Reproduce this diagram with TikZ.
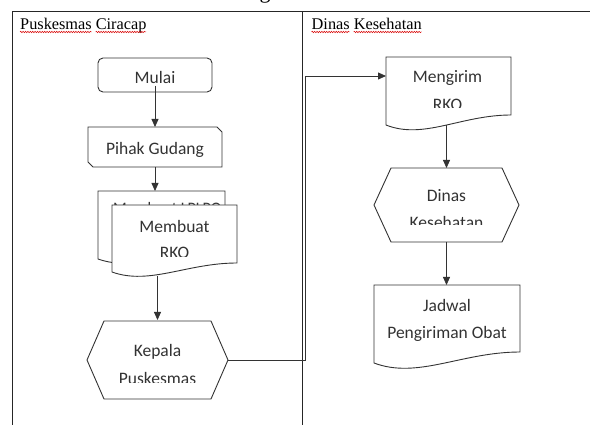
\documentclass[tikz,border=0pt]{standalone}
\usepackage{fontspec}
\setmainfont{Liberation Serif}
\newfontfamily\calibri{Carlito}
\usetikzlibrary{arrows.meta,calc,decorations.pathmorphing}
\newcommand{\docshape}[2]{\draw[shapeline] (#1.north west) -- (#1.north east) -- ($(#1.south east)+(0,-#2)$) .. controls ($(#1.south west)!0.6!(#1.south east)+(0,-#2)$) and ($(#1.south west)!0.3!(#1.south east)+(0,1.5*#2)$) .. (#1.south west) -- cycle;}
\newcommand{\hexshape}[2]{\draw[shapeline] (#1.west) -- ($(#1.north west)+(#2,0)$) -- ($(#1.north east)+(-#2,0)$) -- (#1.east) -- ($(#1.south east)+(-#2,0)$) -- ($(#1.south west)+(#2,0)$) -- cycle;}
\begin{document}
\begin{tikzpicture}[x=1pt,y=-1pt,
  shapeline/.style={draw=black!80, line width=0.9pt, fill=white},
  geo/.style={inner sep=0pt, outer sep=0pt},
  lbl/.style={font=\calibri\fontsize{17.5}{21}\selectfont, text=black!80, anchor=base, inner sep=0pt},
  ttl/.style={font=\fontsize{16.3}{19}\selectfont, anchor=base west, inner sep=0pt},
  frame/.style={draw=black!85, line width=1pt},
  conn/.style={draw=black!80, line width=0.8pt},
  arr/.style={conn, -{Triangle[length=8pt,width=7pt]}},
  wavy/.style={draw=red!85!black, line width=0.5pt, decorate, decoration={snake, amplitude=0.7pt, segment length=2.4pt}}]

\useasboundingbox (0,0) rectangle (590,425);
\fill[white] (0,0) rectangle (590,425);

% fragment of the caption above (cut off by the page edge, as in the reference)
\node[font=\fontsize{22}{26}\selectfont, anchor=base, inner sep=0pt] (cap) at (265,-1) {g};

% swimlane frame
\coordinate (tl) at (12,12);
\coordinate (tr) at (590,12);
\coordinate (bl) at (12,425);
\coordinate (dt) at (302.5,12);
\coordinate (db) at (302.5,425);
\draw[frame] (tr) -- (tl) -- (bl);
\draw[frame] (dt) -- (db);

% lane titles
\node[ttl] (lane1) at (20,29.5) {Puskesmas Ciracap};
\node[ttl] (lane2) at (311.5,29.5) {Dinas Kesehatan};
\draw[wavy] (20,32) -- (91.5,32);
\draw[wavy] (95.6,32) -- (146,32);
\draw[wavy] (311.5,32) -- (349.5,32);
\draw[wavy] (353.6,32) -- (421.5,32);

% ---------- lane 1 ----------
\node[geo, minimum width=114, minimum height=34] (mulai) at (155,75) {};
\draw[shapeline, rounded corners=5pt] (mulai.north west) rectangle (mulai.south east);
\node[lbl] (tmulai) at (155,84) {Mulai};

\node[geo, minimum width=134, minimum height=40] (pg) at (155,147) {};
\draw[shapeline] (pg.north west) -- ($(pg.north east)+(-5,0)$) -- ($(pg.north east)+(0,5)$) -- (pg.south east) -- ($(pg.south west)+(5,0)$) -- ($(pg.south west)+(0,-5)$) -- cycle;
\begin{scope}
  \clip (88,127) rectangle (222,157);
  \node[lbl] (tpg) at (155,154.5) {Pihak Gudang};
\end{scope}

% back document
\node[geo, minimum width=127, minimum height=68] (lp) at (161.5,225) {};
\docshape{lp}{9}
\begin{scope}
  \clip (98,191) rectangle (225,259);
  \node[lbl, font=\calibri\fontsize{16}{19}\selectfont, anchor=base west] (tlp) at (113,213.5) {Membuat LPLPO};
\end{scope}

% front document
\node[geo, minimum width=125, minimum height=67] (mb) at (174.5,238.5) {};
\docshape{mb}{9}
\begin{scope}
  \clip (112,205) rectangle (237,256.5);
  \node[lbl] (tmb1) at (174.5,232.3) {Membuat};
  \node[lbl] (tmb2) at (174.5,258.5) {RKO};
\end{scope}

\node[geo, minimum width=141, minimum height=78] (kp) at (157.5,360) {};
\hexshape{kp}{17}
\begin{scope}
  \clip (87,321) rectangle (228,382);
  \node[lbl] (tkp1) at (157.5,356.3) {Kepala};
  \node[lbl] (tkp2) at (157.5,384.3) {Puskesmas};
\end{scope}

% ---------- lane 2 ----------
\node[geo, minimum width=125, minimum height=68] (mr) at (448.5,91) {};
\docshape{mr}{10}
\begin{scope}
  \clip (386,57) rectangle (511,108);
  \node[lbl] (tmr1) at (447.5,82.2) {Mengirim};
  \node[lbl] (tmr2) at (447.5,110.6) {RKO};
\end{scope}

\node[geo, minimum width=145, minimum height=74] (dn) at (446.5,205) {};
\hexshape{dn}{17}
\begin{scope}
  \clip (374,168) rectangle (519,225);
  \node[lbl] (tdn1) at (446.5,201.5) {Dinas};
  \node[lbl] (tdn2) at (446.5,228.5) {Kesehatan};
\end{scope}

\node[geo, minimum width=146, minimum height=78] (jd) at (447,324) {};
\docshape{jd}{11}
\node[lbl] (tjd1) at (447,311.3) {Jadwal};
\node[lbl] (tjd2) at (447,338.3) {Pengiriman Obat};

% ---------- connectors ----------
\draw[arr] ($(mulai.south)+(0,-6)$) -- (mulai.south |- pg.north);
\draw[arr] (pg.south) -- (pg.south |- lp.north);
\draw[arr] ($(kp.north |- mb.south)+(0,4)$) -- ($(kp.north)+(0,-1)$);
\coordinate (j1) at (305,360);
\coordinate (j2) at (305,76);
\draw[arr] (kp.east) -- (j1) -- (j2) -- (j2 -| mr.west);
\draw[arr] (dn.north |- mr.south) -- (dn.north);
\draw[arr] (dn.south) -- (dn.south |- jd.north);
\end{tikzpicture}
\end{document}
